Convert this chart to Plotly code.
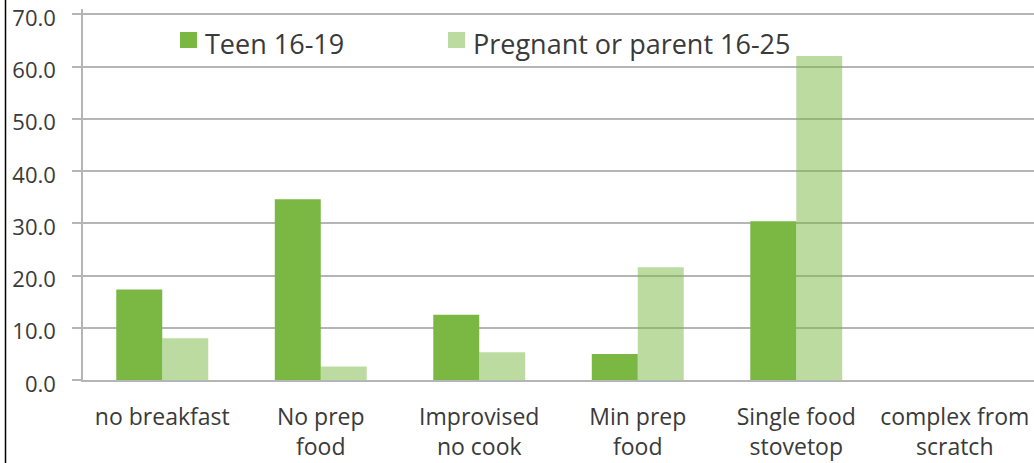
import plotly.graph_objects as go

categories = ['no breakfast', 'No prep<br>food', 'Improvised<br>no cook', 'Min prep<br>food',
              'Single food<br>stovetop', 'complex from<br>scratch']
teen = [17.3, 34.6, 12.5, 5.0, 30.4, 0.0]
parent = [8.0, 2.6, 5.3, 21.6, 62.0, 0.0]
series_names = ['Teen 16-19', 'Pregnant or parent 16-25']
tick_vals = [0, 10, 20, 30, 40, 50, 60, 70]
tick_text = ['0.0', '10.0', '20.0', '30.0', '40.0', '50.0', '60.0', '70.0']

dark_green = '#7ab743'
light_green = 'rgba(122,183,67,0.5)'
text_col = '#3a3a3a'
grid_col = '#b5b5b5'

left, right, top, bottom = 83, 1034, 9, 380   # plot area in pixels
pw, ph = right - left, bottom - top
y_top = 70 + (14.3 - top) / ((bottom - 14.3) / 70)

def px_x(p):
    return (p - left) / pw

def px_y(p):
    return (bottom - p) / ph

fig = go.Figure()
fig.add_trace(go.Bar(x=categories, y=teen, name=series_names[0],
                     marker=dict(color=dark_green, line=dict(width=0))))
fig.add_trace(go.Bar(x=categories, y=parent, name=series_names[1],
                     marker=dict(color=light_green, line=dict(width=0))))

# legend drawn by hand so the swatches match the original size
legend_x = [180, 448]
shapes = []
annotations = []
for name, col, lx in zip(series_names, [dark_green, '#bcdba1'], legend_x):
    shapes.append(dict(type='rect', xref='paper', yref='paper',
                       x0=px_x(lx), x1=px_x(lx + 17), y0=px_y(48), y1=px_y(32),
                       fillcolor=col, line=dict(width=0)))
    annotations.append(dict(text=name, xref='paper', yref='paper',
                            x=px_x(lx + 23), y=px_y(43), xanchor='left', yanchor='middle',
                            showarrow=False, font=dict(size=27, color=text_col)))

# black border line at the far left of the picture
shapes.append(dict(type='line', xref='paper', yref='paper',
                   x0=px_x(5.5), x1=px_x(5.5), y0=px_y(0), y1=px_y(463),
                   line=dict(color='black', width=1.5)))

fig.update_layout(
    width=1034, height=463,
    margin=dict(l=left, r=1034 - right, t=top, b=463 - bottom),
    paper_bgcolor='white', plot_bgcolor='white',
    font=dict(family='Open Sans', color=text_col),
    barmode='group', bargap=0.42, bargroupgap=0,
    showlegend=False,
    shapes=shapes, annotations=annotations,
    xaxis=dict(showline=True, linecolor=grid_col, linewidth=1.5, ticks='',
               tickfont=dict(size=23, color=text_col), ticklabelstandoff=16,
               automargin=False),
    yaxis=dict(range=[0, y_top], tickvals=tick_vals, ticktext=tick_text,
               showgrid=True, gridcolor=grid_col, gridwidth=1.5,
               showline=True, linecolor=grid_col, linewidth=1.5,
               ticks='outside', ticklen=9, tickcolor=grid_col, tickwidth=1.5,
               tickfont=dict(size=22, color=text_col), ticklabelstandoff=12,
               ticklabelshift=4, ticklabeloverflow='allow',
               zeroline=False, automargin=False),
)

# drop the browser's default 8px body margin so the figure sits at the window corner
fig.write_html("out.html", config={'displayModeBar': False},
               post_script="document.body.style.margin = '0';")
